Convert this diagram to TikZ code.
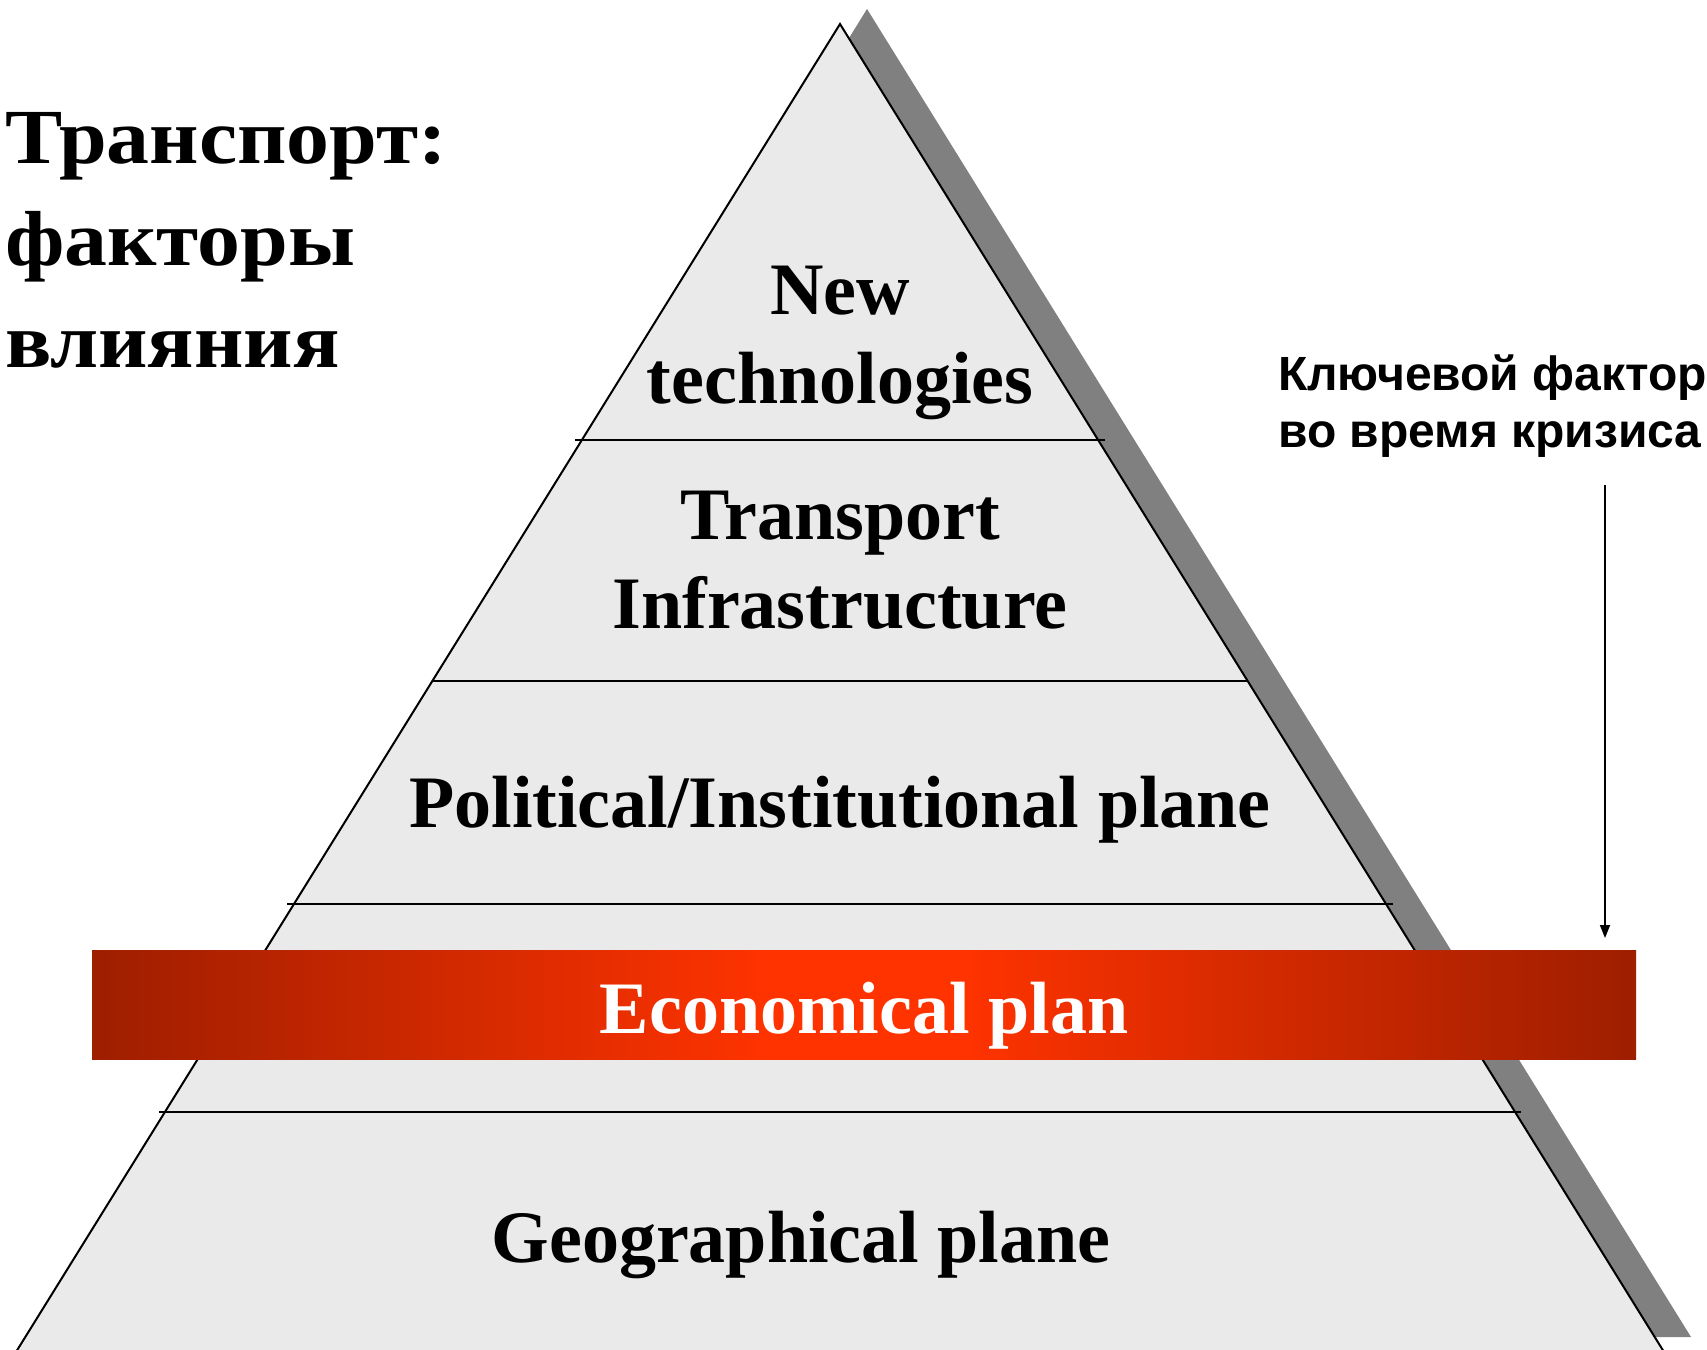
\documentclass[tikz,border=0pt]{standalone}
\usepackage{fontspec}
\setmainfont{Liberation Serif}
\newfontfamily\titlefont{Liberation Serif}[FakeStretch=1.1]
\newfontfamily\keyfont{Liberation Sans}
\usepackage{tikz}
\usetikzlibrary{arrows.meta}

\definecolor{pyrfill}{HTML}{EAEAEA}
\definecolor{pyrshadow}{HTML}{808080}
\definecolor{econdark}{HTML}{9E1E00}
\definecolor{econlight}{HTML}{FF3300}
\pgfdeclarehorizontalshading{econband}{100bp}{color(0bp)=(econdark); color(25bp)=(econdark);
	color(47bp)=(econlight); color(53bp)=(econlight); color(75bp)=(econdark); color(100bp)=(econdark)}

\begin{document}
\begin{tikzpicture}[x=1pt, y=-1pt,
		plane/.style={font=\bfseries\fontsize{74}{89}\selectfont, align=center,
			anchor=base, inner sep=0},
		sep/.style={line width=2pt}]
		\useasboundingbox (0, 0) rectangle (1707, 1349);
		\fill[white] (0, 0) rectangle (1707, 1349);
		\clip (0, 0) rectangle (1707, 1349);

		\fill[pyrshadow] (867, 9) -- (1691, 1337) -- (45, 1337) -- cycle;
		\draw[line width=2pt, fill=pyrfill] (840, 24) -- (1664, 1352) -- (16, 1352) -- cycle;

		\foreach \y/\e in {440/7, 681/0, 904/7, 1112/6}
		\draw[sep] ({840 - .6204*(\y - 24) - \e}, \y) -- ({840 + .6204*(\y - 24) + \e}, \y);

		\shade[shading=econband] (92, 950) rectangle (1636, 1059);

		\draw (840, 403) node[plane] (newtech) {New\\technologies};
		\draw (840, 628) node[plane] (infra) {Transport\\Infrastructure};
		\draw (840, 827) node[plane] (polit) {Political/Institutional plane};
		\draw (864, 1033) node[plane, white] (econ) {Economical plan};
		\draw (801, 1262) node[plane] (geo) {Geographical plane};

		\draw (5, 367) node[anchor=base west, align=left, inner sep=0,
			font=\titlefont\bfseries\fontsize{78}{102}\selectfont] (title) {Транспорт:\\факторы\\влияния};

		\draw (1278, 447) node[anchor=base west, align=left, inner sep=0,
			font=\keyfont\bfseries\fontsize{48}{57}\selectfont] (keyfactor)
			{Ключевой фактор\\во время кризиса};

		\coordinate (keytop) at (1605, 485);
		\coordinate (keytip) at (1605, 938);
		\draw[line width=1.6pt, -{Triangle[width=10pt, length=13pt]}] (keytop) -- (keytip);
	\end{tikzpicture}
\end{document}
